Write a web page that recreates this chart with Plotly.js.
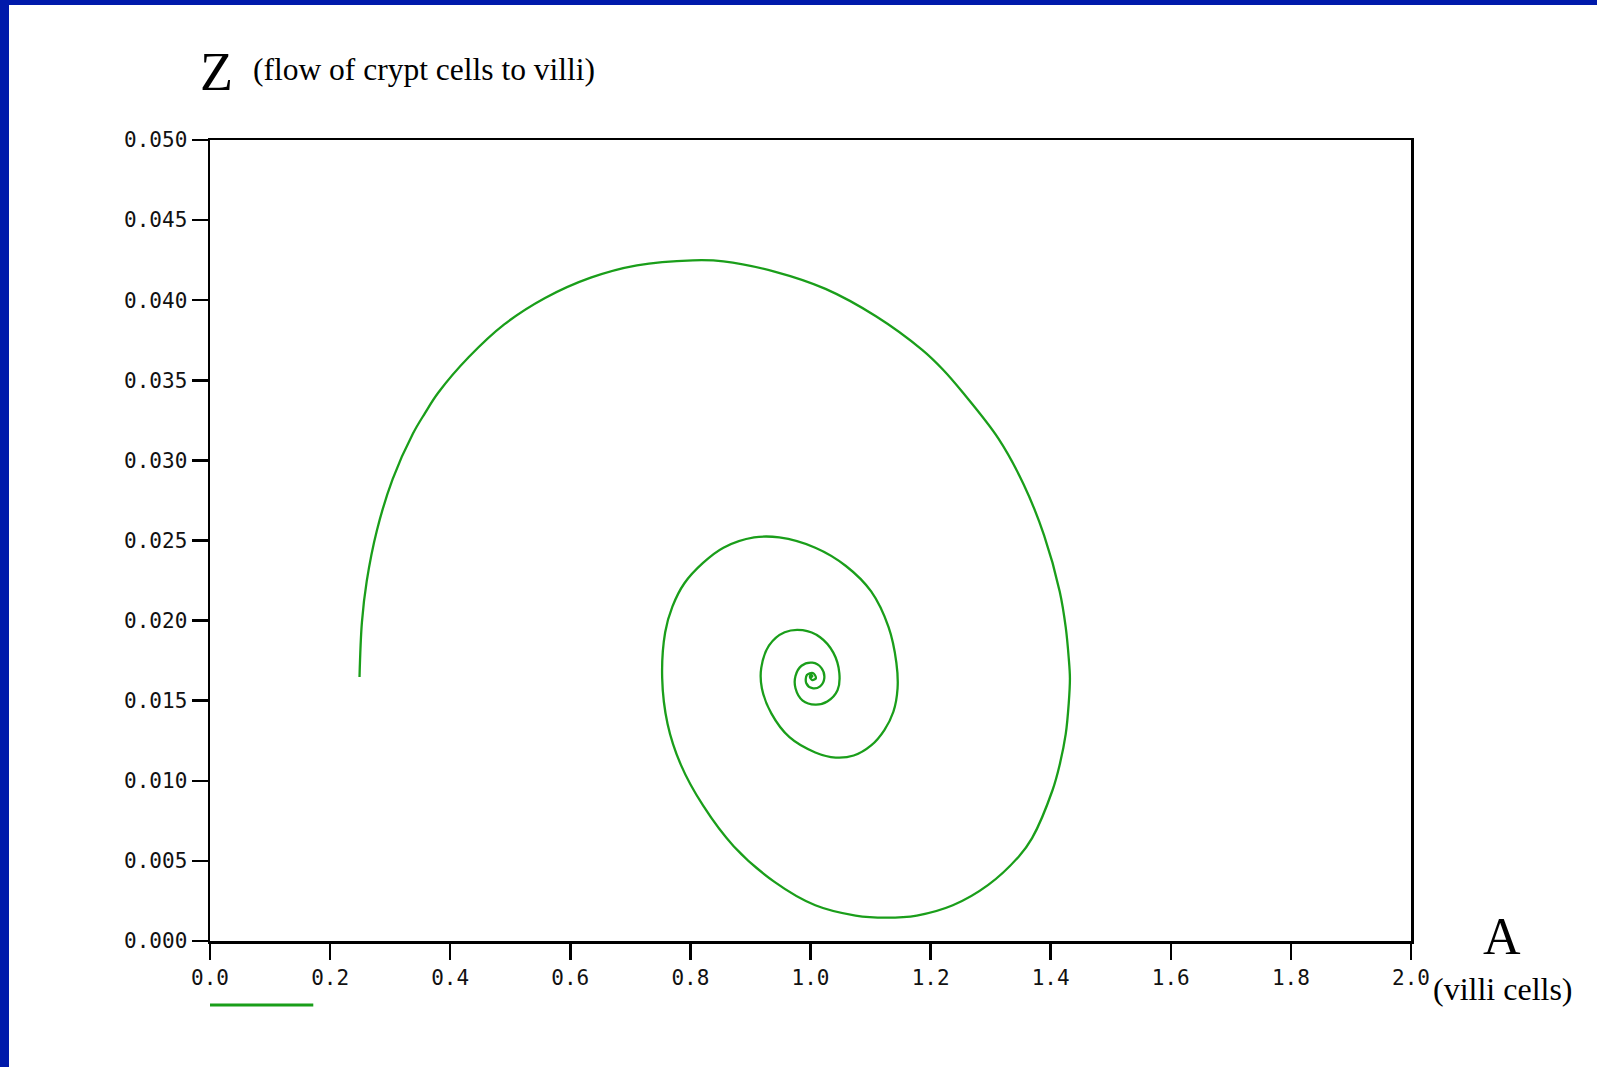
<!DOCTYPE html>
<html>
<head>
<meta charset="utf-8">
<script src="https://cdn.plot.ly/plotly-3.0.1.min.js"></script>
<style>
  html, body { margin: 0; padding: 0; background: #ffffff; }
  #chart { position: absolute; left: 0; top: 0; width: 1597px; height: 1067px; }
  .bar-top { position: absolute; left: 0; top: 0; width: 1597px; height: 5px; background: #001AAB; }
  .bar-left { position: absolute; left: 0; top: 0; width: 9px; height: 1067px; background: #001AAB; }
</style>
</head>
<body>
<div id="chart"></div>
<div class="bar-top"></div>
<div class="bar-left"></div>
<script>
// Phase-plane trajectory: A (villi cells) vs Z (flow of crypt cells to villi)
const A = [0.249, 0.253, 0.261, 0.278, 0.304, 0.338, 0.358, 0.380, 0.431, 0.490, 0.558, 0.634, 0.711, 0.804,
  0.855, 0.940, 1.025, 1.109, 1.186, 1.220, 1.254, 1.313, 1.355, 1.389, 1.415, 1.425, 1.430, 1.432,
  1.430, 1.425, 1.415, 1.403, 1.369, 1.347, 1.296, 1.237, 1.177, 1.126, 1.075, 1.008, 0.940, 0.872,
  0.821, 0.784, 0.762, 0.753, 0.758, 0.770, 0.790, 0.821, 0.855, 0.906, 0.948, 1.008, 1.059, 1.101, 1.130,
  1.143, 1.145, 1.138, 1.123, 1.101, 1.072, 1.042, 1.008, 0.965, 0.935, 0.919, 0.918, 0.931, 0.957, 0.987,
  1.016, 1.038, 1.048, 1.045, 1.028, 1.008, 0.987, 0.975, 0.975, 0.985, 1.003, 1.018, 1.023, 1.016, 1.003,
  0.993, 0.994, 1.004, 1.009, 1.003, 0.999, 1.001, 1.003, 1.000];
const Z = [0.01648, 0.01990, 0.02246, 0.02564, 0.02882, 0.03168, 0.03295, 0.03422, 0.03645, 0.03849, 0.04014,
  0.04141, 0.04218, 0.04249, 0.04243, 0.04179, 0.04071, 0.03900, 0.03690, 0.03569, 0.03422, 0.03136,
  0.02850, 0.02532, 0.02182, 0.01959, 0.01768, 0.01641, 0.01482, 0.01291, 0.01101, 0.00941, 0.00642,
  0.00528, 0.00350, 0.00223, 0.00159, 0.00146, 0.00159, 0.00223, 0.00369, 0.00592, 0.00846, 0.01101, 0.01355,
  0.01641, 0.01927, 0.02087, 0.02233, 0.02360, 0.02455, 0.02519, 0.02519, 0.02455, 0.02341, 0.02182, 0.01959,
  0.01737, 0.01578, 0.01431, 0.01317, 0.01221, 0.01158, 0.01145, 0.01177, 0.01272, 0.01419, 0.01578, 0.01705,
  0.01845, 0.01927, 0.01940, 0.01896, 0.01800, 0.01673, 0.01565, 0.01495, 0.01476, 0.01501, 0.01578, 0.01654,
  0.01718, 0.01737, 0.01705, 0.01641, 0.01590, 0.01578, 0.01609, 0.01660, 0.01673, 0.01641, 0.01628, 0.01650,
  0.01662, 0.01652, 0.01645];

const xTickVals = [0.0, 0.2, 0.4, 0.6, 0.8, 1.0, 1.2, 1.4, 1.6, 1.8, 2.0];
const xTickText = ["0.0", "0.2", "0.4", "0.6", "0.8", "1.0", "1.2", "1.4", "1.6", "1.8", "2.0"];
const yTickVals = [0.000, 0.005, 0.010, 0.015, 0.020, 0.025, 0.030, 0.035, 0.040, 0.045, 0.050];
const yTickText = ["0.000", "0.005", "0.010", "0.015", "0.020", "0.025", "0.030", "0.035", "0.040", "0.045", "0.050"];

const GREEN = "#1a9e1a";
const tickFont = { family: "DejaVu Sans Mono", size: 21, color: "#111111" };
const serif = "Liberation Serif, Times New Roman, serif";

const trace = {
  x: A, y: Z, type: "scatter", mode: "lines",
  line: { color: GREEN, width: 2.3, shape: "spline", smoothing: 1 },
  showlegend: false, hoverinfo: "skip"
};

const axisCommon = {
  showgrid: false, zeroline: false,
  showline: true, linecolor: "#000000", linewidth: 2.5, mirror: true,
  ticks: "outside", ticklen: 16, tickwidth: 2.5, tickcolor: "#000000",
  tickfont: tickFont, tickmode: "array", fixedrange: true
};

const layout = {
  width: 1597, height: 1067,
  margin: { l: 210, r: 186, t: 140, b: 126, pad: 0 },
  paper_bgcolor: "#ffffff", plot_bgcolor: "#ffffff",
  showlegend: false,
  xaxis: Object.assign({}, axisCommon, { range: [0, 2], tickvals: xTickVals, ticktext: xTickText, ticklabelstandoff: 0 }),
  yaxis: Object.assign({}, axisCommon, { range: [0, 0.05], tickvals: yTickVals, ticktext: yTickText, ticklabelstandoff: 0 }),
  shapes: [
    { type: "line", xref: "paper", yref: "paper", x0: 0, x1: 0.086, y0: -0.08, y1: -0.08,
      line: { color: GREEN, width: 3 } }
  ],
  annotations: [
    { text: "Z", xref: "paper", yref: "paper", x: -0.0100, y: 1.0849, xanchor: "left", yanchor: "middle",
      showarrow: false, font: { family: serif, size: 54, color: "#000000" } },
    { text: "(flow of crypt cells to villi)", xref: "paper", yref: "paper", x: 0.0340, y: 1.0886,
      xanchor: "left", yanchor: "middle", showarrow: false, font: { family: serif, size: 31.5, color: "#000000" } },
    { text: "A", xref: "paper", yref: "paper", x: 1.0754, y: 0.0056, xanchor: "center", yanchor: "middle",
      showarrow: false, font: { family: serif, size: 52, color: "#000000" } },
    { text: "(villi cells)", xref: "paper", yref: "paper", x: 1.0762, y: -0.060, xanchor: "center", yanchor: "middle",
      showarrow: false, font: { family: serif, size: 32, color: "#000000" } }
  ]
};

Plotly.newPlot("chart", [trace], layout, { displayModeBar: false, staticPlot: true });
</script>
</body>
</html>
